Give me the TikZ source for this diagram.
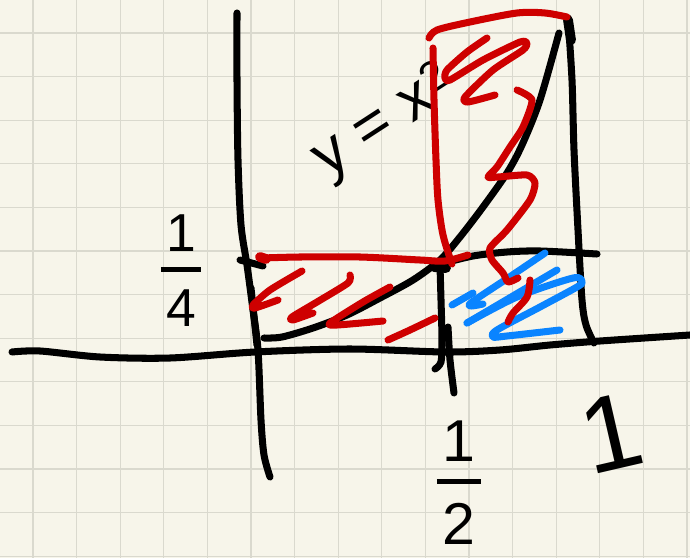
\documentclass[tikz,border=0pt]{standalone}
\usepackage{fontspec}
\setmainfont{Liberation Sans}
\usepackage{tikz}
\definecolor{paper}{RGB}{247,245,234}
\definecolor{gridgrey}{RGB}{218,217,206}
\definecolor{inkred}{RGB}{206,0,0}
\definecolor{inkblue}{RGB}{10,132,255}
\newcommand{\handfrac}[2]{#1\\[-0.62em]\rule{0.75em}{0.1em}\\[0.02em]#2}

\begin{document}
\begin{tikzpicture}[x=0.025cm, y=-0.025cm,
    ink/.style={line width=5pt, line cap=round, line join=round, draw=black},
    redink/.style={ink, draw=inkred},
    blueink/.style={ink, draw=inkblue},
    gridline/.style={draw=gridgrey, line width=0.9pt},
    handtext/.style={inner sep=0pt, align=center, text=black}
]

\useasboundingbox (0,0) rectangle (690,558);
\fill[paper] (0,0) rectangle (690,558);
\foreach \g in {0,...,15} \draw[gridline] ({33+43.6*\g},0) -- ({33+43.6*\g},558);
\foreach \g in {0,...,12} \draw[gridline] (0,{33+43.6*\g}) -- (690,{33+43.6*\g});

% axes, curve and strips
\draw[ink] plot[smooth] coordinates {(237,13) (237,80) (238,160) (241,225) (247,265) (253,310) (258,350) (261,420) (264,455) (270,477)};
\draw[ink] (251,288) -- (257,345);
\draw[ink] (240,260) -- (263,266);
\draw[ink] plot[smooth] coordinates {(12,352) (40,351) (100,357) (170,358) (255,352) (350,349) (445,352) (500,350) (550,345) (600,341) (690,335)};
\draw[ink] plot[smooth] coordinates {(264,338) (282,337) (313,328) (347,315) (380,298) (413,280) (440,260) (460,237) (483,207) (507,173) (522,145) (540,100) (559,33)};
\draw[ink] plot[smooth] coordinates {(568,18) (572,80) (574,150) (578,230) (582,300) (586,325) (594,343)};
\draw[ink, line width=7pt] (568,20) -- (571,40);
\draw[ink] plot[smooth] coordinates {(440,264) (473,256) (507,252) (540,251) (597,254)};
\draw[ink] plot[smooth] coordinates {(440,266) (441,300) (442,340) (441,362) (435,369)};
\draw[ink] plot[smooth] coordinates {(448,327) (450,360) (454,393)};
\draw[ink, line width=7pt] (434,267) -- (446,268);

\node (quarter) [handtext, font=\fontsize{38}{38}\selectfont] at (181,271) {\handfrac{1}{4}};
\node (half) [handtext, font=\fontsize{42}{42}\selectfont] at (459,483) {\handfrac{1}{2}};
\node (one) [handtext, font=\fontsize{76}{76}\selectfont, rotate=13] at (611,433) {1};
\node (parabola) [handtext, font=\fontsize{44}{44}\selectfont, rotate=33] at (385,123) {y = x\textsuperscript{2}};

% blue strip
\draw[blueink] (452,305) -- (473,293);
\draw[blueink] plot[smooth] coordinates {(545,253) (508,278) (472,302) (471,306) (483,304)};
\draw[blueink] (557,270) -- (467,323);
\draw[blueink] plot[smooth] coordinates {(467,323) (517,297) (573,278) (582,282) (577,287) (540,307) (497,330) (493,337) (507,336) (560,330)};

% red strips
\draw[redink] plot[smooth] coordinates {(433,48) (434,100) (436,160) (438,200) (443,235) (452,264)};
\draw[redink] plot[smooth] coordinates {(429,38) (437,30) (470,22) (517,13) (545,13) (567,17)};
\draw[redink] plot[smooth, tension=0.4] coordinates {(487,38) (467,52) (447,70) (445,78) (450,80) (483,60) (520,42) (527,43) (523,50) (493,70) (465,97) (468,102) (495,95)};
\draw[redink] plot[smooth, tension=0.4] coordinates {(517,90) (532,100) (523,127) (510,147) (497,167) (488,177) (498,177) (527,175) (535,183) (530,200) (507,230) (490,248) (492,260) (503,273) (508,282) (518,278)};
\draw[redink] plot[smooth] coordinates {(530,280) (527,297) (513,313) (508,322)};
\draw[redink] plot[smooth] coordinates {(262,258) (300,257) (360,257) (420,260) (445,261) (468,255)};
\draw[redink, line width=7pt] (260,257) -- (266,259);
\draw[redink] plot[smooth, tension=0.4] coordinates {(302,271) (270,290) (253,305) (255,308) (278,300)};
\draw[redink] plot[smooth, tension=0.4] coordinates {(350,275) (348,283) (317,302) (292,317) (293,320) (313,313)};
\draw[redink] plot[smooth, tension=0.4] coordinates {(390,287) (363,302) (330,323) (337,325) (383,321)};
\draw[redink] plot[smooth] coordinates {(388,340) (410,330) (435,318)};

\end{tikzpicture}
\end{document}
